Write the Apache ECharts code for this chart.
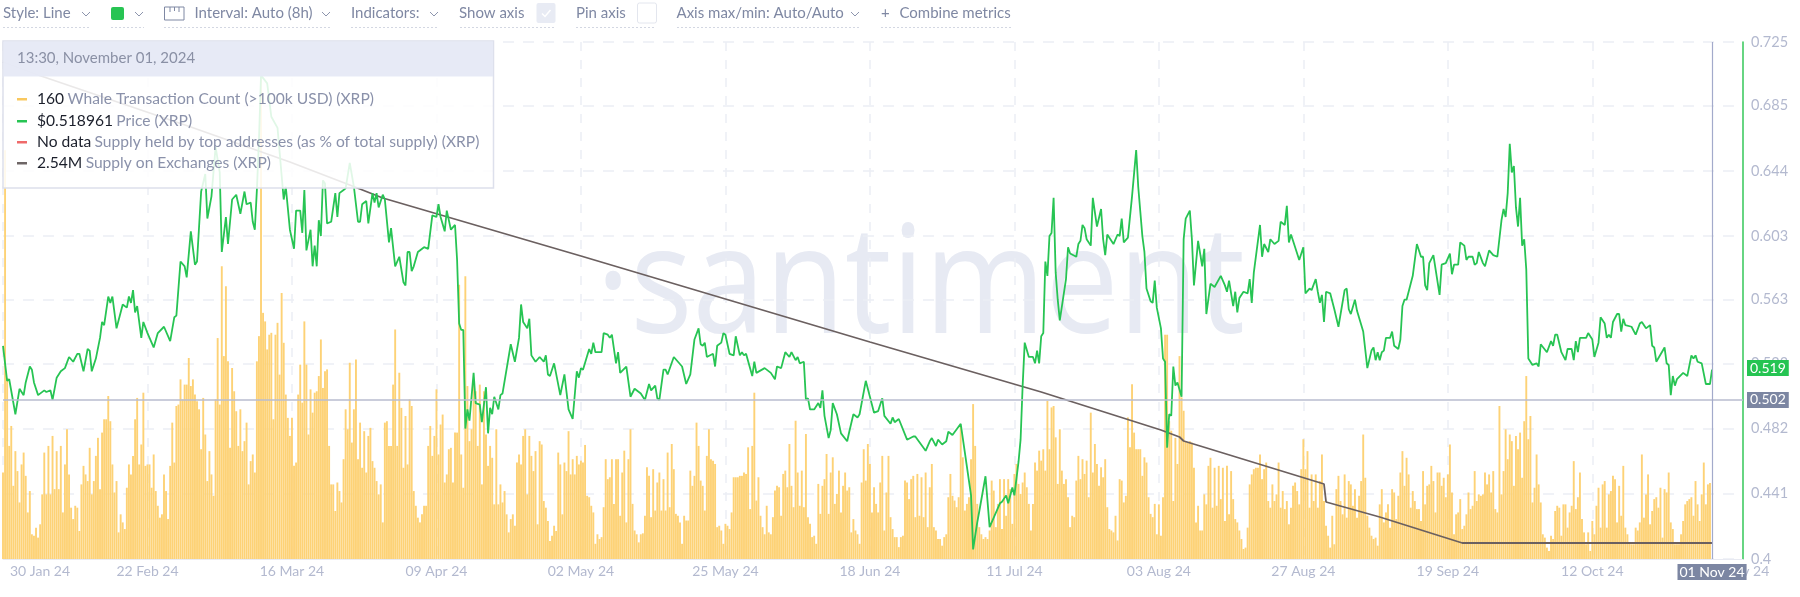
<!DOCTYPE html>
<html>
<head>
<meta charset="utf-8">
<title>XRP metrics</title>
<script src="https://cdn.jsdelivr.net/npm/echarts@6/dist/echarts.min.js"></script>
<style>
  html, body { margin: 0; padding: 0; background: #fff; }
  #chart { width: 1800px; height: 597px; }
</style>
</head>
<body>
<div id="chart"></div>
<script>
// x positions are 8h steps counted from 30 Jan 24
const xTickSteps = [0, 70, 140, 210, 280, 350, 420, 490, 560, 630, 700, 770, 840];
const xTickLabels = ['30 Jan 24', '22 Feb 24', '16 Mar 24', '09 Apr 24', '02 May 24', '25 May 24', '18 Jun 24', '11 Jul 24', '03 Aug 24', '27 Aug 24', '19 Sep 24', '12 Oct 24', '04 Nov 24'];
const priceTicks = [0.4, 0.441, 0.482, 0.523, 0.563, 0.603, 0.644, 0.685, 0.725];
const lastStep = 828;
const pinnedPrice = 0.502;
const lastPrice = 0.519;

const whaleCounts = [
  182,860,381,238,280,154,227,185,119,199,224,175,98,143,52,49,66,45,73,136,224,136,238,136,259,147,227,147,238,98,199,273,178,108,84,
  112,108,59,157,196,178,164,234,136,164,217,255,147,266,294,294,343,290,199,140,164,56,94,77,63,150,199,178,217,294,339,199,241,350,196,199,
  199,150,220,143,112,87,94,178,143,84,196,287,203,322,325,378,336,367,367,423,364,378,346,332,315,231,339,262,164,227,178,133,336,465,325,616,427,574,416,
  234,402,353,311,238,315,227,248,287,157,206,220,182,416,469,1015,518,500,441,472,476,294,472,497,388,560,455,346,297,259,
  297,196,203,346,409,329,500,409,262,357,308,350,353,385,462,360,395,399,238,157,157,101,161,143,119,210,315,273,413,245,315,420,210,287,192,269,182,259,276,206,192,164,136,157,77,287,290,238,238,367,483,238,392,318,192,301,199,336,322,143,112,87,77,94,112,112,238,280,217,259,357,220,283,304,161,178,231,234,161,266,266,577,220,150,595,364,248,273,371,353,238,367,157,353,262,196,238,213,115,273,115,157,119,143,94,56,84,94,70,203,220,199,259,273,136,259,217,185,227,73,248,241,122,108,80,38,49,70,59,224,199,94,203,185,269,178,210,178,217,199,
  207,203,240,133,130,112,98,32,52,42,46,109,210,168,172,210,116,210,210,91,182,228,77,210,273,116,60,52,35,52,54,91,193,175,88,189,102,161,182,102,168,102,224,109,242,189,95,91,77,32,91,81,81,186,154,175,287,238,165,154,102,217,273,210,207,200,67,70,60,32,74,70,63,98,172,172,172,175,175,182,179,235,105,238,350,123,172,91,67,52,112,56,52,88,144,154,151,91,179,186,151,242,154,109,291,182,112,186,109,263,88,74,46,49,32,158,95,154,168,221,95,182,214,116,137,186,98,154,182,144,151,56,84,60,52,32,161,231,165,242,
  200,98,151,116,98,161,217,60,140,217,88,63,46,46,25,46,49,165,161,126,168,175,88,179,91,172,88,182,67,151,200,67,60,42,42,28,46,52,130,179,133,123,109,130,280,214,102,116,130,210,326,238,116,67,52,42,46,42,60,165,144,67,116,168,63,168,91,168,147,74,179,200,158,137,161,182,151,116,60,116,203,186,228,207,231,186,333,231,319,322,256,158,273,186,158,168,130,67,91,88,165,217,168,210,179,207,130,308,182,242,200,154,193,172,210,109,63,60,56,91,39,168,165,119,133,298,235,368,266,231,231,231,175,214,203,130,95,88,116,52,
  115,49,130,472,472,290,270,122,255,200,427,340,312,248,245,248,245,192,77,112,60,60,136,115,196,213,108,192,112,196,126,192,80,196,94,185,126,84,77,60,42,21,24,66,157,178,189,192,192,220,168,189,203,122,108,157,122,136,203,108,143,105,122,73,108,154,161,143,115,189,252,189,227,108,178,122,178,108,164,220,122,70,49,24,91,31,147,175,122,94,178,87,164,157,112,147,87,133,164,262,171,91,66,49,42,45,28,
  115,147,77,98,115,66,147,140,84,133,182,227,154,213,178,108,143,122,105,105,80,185,115,154,157,196,164,98,182,182,154,171,130,178,241,140,52,94,98,126,63,70,94,140,105,112,185,122,136,133,136,182,157,178,140,185,105,98,322,136,185,273,210,262,248,154,259,231,266,171,290,385,252,301,119,150,220,157,119,52,45,24,17,49,42,101,112,108,49,115,115,66,98,112,206,105,130,182,84,56,31,56,17,80,52,112,150,66,157,164,66,136,143,175,168,77,154,91,196,66,52,35,31,31,66,60,77,220,87,136,178,73,101,126,130,108,150,45,147,140,182,77,63,31,31,31,52,80,115,122,126,130,91,164,115,80,136,203,115,157,160
];

const pricePoints = [
  [0,.534],[2,.512],[3,.513],[6,.491],[8,.507],[10,.503],[11,.511],[13,.521],[14,.519],[15,.511],[17,.503],[20,.506],[21,.505],[23,.506],[24,.500],[26,.514],[28,.518],[30,.520],[32,.527],[34,.524],[36,.529],[37,.529],[39,.518],[41,.532],[42,.531],[43,.518],[45,.526],[47,.539],[48,.549],[49,.547],[51,.565],[52,.561],[53,.565],[55,.545],[58,.560],[60,.558],[61,.565],[62,.561],[63,.569],[64,.555],[65,.559],[67,.539],[68,.549],[70,.542],[73,.533],[75,.542],[78,.546],[81,.537],[83,.552],[84,.553],[86,.587],[88,.584],[89,.577],[91,.606],[93,.585],[94,.587],[96,.631],[98,.642],[99,.614],[101,.628],[103,.659],[105,.643],[106,.593],[108,.615],[109,.598],[111,.626],[113,.629],[115,.617],[117,.631],[118,.623],[120,.624],[121,.612],[122,.607],[123,.632],[124,.663],[125,.704],[128,.699],[130,.678],[133,.671],[136,.626],[137,.634],[139,.607],
  [141,.595],[142,.619],[144,.619],[145,.605],[146,.632],[147,.594],[149,.607],[150,.584],[151,.597],[152,.584],[153,.613],[154,.603],[155,.638],[156,.636],[157,.611],[159,.612],[161,.630],[162,.615],[163,.630],[165,.632],[166,.633],[168,.649],[170,.634],[172,.612],[173,.612],[174,.623],[176,.625],[177,.611],[179,.630],[180,.624],[181,.630],[182,.621],[184,.629],[185,.626],[187,.599],[188,.608],[190,.584],[192,.590],[194,.574],[195,.572],[196,.593],[197,.593],[198,.581],[199,.584],[201,.593],[204,.596],[206,.595],[208,.616],[210,.615],[211,.623],[212,.615],[214,.606],[215,.619],[217,.607],[219,.610],[220,.588],[221,.548],[222,.544],[223,.544],[224,.482],[225,.494],[226,.487],[228,.517],[229,.498],[231,.497],[232,.486],[234,.508],[235,.479],[236,.495],[237,.491],[238,.502],[240,.494],[241,.503],[242,.504],[246,.535],[248,.524],[250,.539],[251,.560],[252,.549],[254,.545],[255,.551],[256,.528],[258,.524],[260,.527],[262,.524],[263,.528],[264,.516],[265,.515],[267,.523],[270,.503],[272,.516],[274,.494],[276,.488],[278,.518],[279,.514],[280,.520],
  [281,.519],[284,.532],[285,.529],[286,.536],[287,.530],[290,.530],[291,.542],[293,.541],[294,.539],[295,.541],[297,.523],[298,.530],[299,.517],[302,.521],[304,.502],[306,.507],[309,.504],[311,.500],[313,.510],[314,.506],[316,.509],[317,.501],[318,.500],[320,.519],[321,.519],[322,.516],[325,.527],[329,.521],[331,.510],[333,.516],[335,.538],[337,.545],[338,.535],[339,.534],[340,.536],[341,.527],[344,.529],[345,.521],[346,.534],[348,.536],[349,.542],[350,.541],[352,.529],[354,.528],[355,.540],[357,.528],[358,.530],[359,.528],[360,.529],[363,.515],[364,.524],[365,.517],[369,.520],[372,.517],[374,.513],[375,.521],[377,.520],[379,.530],[381,.527],[382,.530],[384,.525],[385,.527],[386,.523],[388,.524],[389,.500],[390,.501],[391,.494],[393,.494],[395,.498],[396,.495],[397,.506],[398,.490],[400,.476],[401,.481],[402,.498],[404,.491],[406,.479],[409,.474],[410,.480],[412,.491],[414,.489],[415,.491],[418,.512],[420,.502],
  [422,.492],[424,.493],[426,.501],[427,.490],[430,.485],[431,.489],[432,.486],[434,.488],[438,.475],[441,.477],[442,.477],[447,.468],[449,.474],[450,.476],[452,.471],[453,.475],[455,.472],[457,.474],[458,.480],[460,.478],[464,.485],[466,.467],[469,.440],[470,.406],[472,.423],[473,.430],[476,.452],[478,.420],[483,.435],[484,.436],[486,.440],[487,.435],[489,.445],[490,.440],[492,.461],[493,.475],[494,.509],[495,.536],[497,.527],[499,.527],[500,.523],[501,.531],[502,.523],[503,.540],[504,.542],[505,.587],[506,.578],
  [507,.603],[508,.605],[509,.627],[510,.580],[511,.563],[512,.550],[515,.576],[516,.596],[517,.592],[520,.590],[521,.598],[522,.600],[523,.610],[524,.608],[525,.601],[527,.597],[528,.627],[530,.609],[532,.620],[533,.601],[534,.591],[535,.604],[538,.598],[540,.604],[541,.603],[542,.614],[543,.599],[545,.602],[547,.628],[549,.657],[550,.634],[552,.603],[553,.593],[554,.570],[556,.562],[557,.561],[558,.575],[559,.558],[561,.545],[562,.526],[563,.524],[564,.470],[565,.491],[566,.490],[567,.521],[568,.509],[569,.511],[571,.502],[572,.601],[573,.614],[575,.619],[576,.601],[577,.572],[579,.600],[581,.584],[582,.595],[583,.554],[585,.573],[587,.571],[590,.578],[592,.572],[593,.568],[594,.575],[596,.559],[597,.568],[598,.555],[599,.564],[601,.568],[603,.567],[604,.576],[605,.561],[606,.580],[609,.610],[610,.590],[611,.598],[613,.593],[614,.601],[616,.598],[618,.600],[619,.612],[621,.610],[622,.622],[623,.599],[624,.604],[625,.600],[628,.588],[630,.596],[631,.567],[633,.570],[634,.569],[636,.576],[637,.568],[638,.561],[639,.566],[640,.549],[641,.568],[643,.567],[645,.557],[647,.546],[650,.569],[651,.570],[652,.557],[653,.554],[655,.563],[656,.556],[659,.543],[661,.520],[663,.531],[664,.533],[665,.525],[666,.530],[667,.525],
  [668,.530],[669,.531],[670,.539],[672,.539],[673,.543],[674,.534],[676,.532],[677,.538],[678,.559],[679,.563],[680,.563],[682,.573],[683,.578],[685,.598],[687,.590],[688,.590],[689,.572],[690,.569],[691,.586],[693,.591],[696,.566],[697,.585],[699,.586],[701,.592],[702,.579],[703,.585],[705,.585],[706,.599],[708,.597],[709,.588],[710,.590],[712,.590],[713,.585],[714,.586],[715,.593],[717,.586],[718,.584],[720,.594],[722,.591],[724,.590],[726,.613],[727,.620],[728,.615],[729,.630],[730,.661],[731,.643],[732,.647],[733,.621],[734,.609],[735,.627],[736,.597],[737,.601],[738,.582],[739,.526],[741,.522],[743,.523],[744,.521],[745,.535],[748,.530],[750,.537],[751,.534],[752,.541],[753,.541],[755,.530],[757,.525],[758,.532],[760,.532],[761,.525],[762,.537],[763,.530],[764,.539],[767,.539],[768,.542],[770,.538],[771,.527],[773,.536],[774,.552],[776,.548],[777,.539],[778,.541],[779,.539],[780,.549],[782,.554],[783,.554],[784,.543],[785,.551],[786,.547],[789,.546],[791,.541],[793,.548],[794,.549],[796,.545],[798,.547],[799,.534],[800,.533],[801,.524],[805,.533],[806,.523],[807,.522],[808,.503],[809,.515],[810,.509],[811,.513],[814,.517],[816,.515],[818,.528],[819,.526],[820,.528],[821,.524],[823,.523],[825,.510],[827,.510],[828,.519]
];

// supply on exchanges, in M
const supplyPoints = [[0,3.021],[17,3.008],[91,2.956],[139,2.921],[168,2.898],[184,2.885],[280,2.827],[420,2.741],[503,2.691],[561,2.653],[570,2.646],[572,2.642],[580,2.637],[640,2.599],[641,2.581],[667,2.566],[707,2.540],[828,2.540]];

const tooltipRows = [
  { color: '#f9c85f', value: '160', name: 'Whale Transaction Count (>100k USD) (XRP)' },
  { color: '#27c453', value: '$0.518961', name: 'Price (XRP)' },
  { color: '#ef6a6a', value: 'No data', name: 'Supply held by top addresses (as % of total supply) (XRP)' },
  { color: '#6e6666', value: '2.54M', name: 'Supply on Exchanges (XRP)' }
];

const uiFont = 'Lato, sans-serif';
const axisFont = '"Liberation Sans Narrow", Lato, sans-serif';
const textGrey = '#7f88a3';

const label = (text, x, y, size, fill, z) => ({
  type: 'text', x: x, y: y, z: z || 10, silent: true,
  style: { text: text, fill: fill || textGrey, font: (size || 15) + 'px ' + uiFont, verticalAlign: 'middle' }
});
const chevron = (x, y) => ({
  type: 'polyline', x: x, y: y, z: 10, silent: true,
  shape: { points: [[-4, -2], [0, 2], [4, -2]] },
  style: { stroke: '#8d95ad', lineWidth: 1, fill: null }
});
const underline = (x1, x2) => ({
  type: 'line', z: 10, silent: true,
  shape: { x1: x1, y1: 27.5, x2: x2, y2: 27.5 },
  style: { stroke: '#d3d7e2', lineWidth: 1, lineDash: [2, 2] }
});

const toolbar = [
  label('Style: Line', 3, 13.5), chevron(86, 14), underline(3, 91),
  { type: 'rect', z: 10, silent: true, shape: { x: 111, y: 7, width: 13, height: 13, r: 2 }, style: { fill: '#27c453' } },
  chevron(139, 14), underline(111, 144),
  { type: 'polyline', z: 10, silent: true, shape: { points: [[164.5, 7], [184, 7], [184, 20], [164.5, 20], [164.5, 7]] }, style: { stroke: '#7f88a3', lineWidth: 1, fill: null } },
  { type: 'polyline', z: 10, silent: true, shape: { points: [[170, 7], [170, 12]] }, style: { stroke: '#7f88a3', lineWidth: 1 } },
  { type: 'polyline', z: 10, silent: true, shape: { points: [[174.5, 7], [174.5, 11]] }, style: { stroke: '#7f88a3', lineWidth: 1 } },
  { type: 'polyline', z: 10, silent: true, shape: { points: [[179, 7], [179, 12]] }, style: { stroke: '#7f88a3', lineWidth: 1 } },
  label('Interval: Auto (8h)', 194.5, 13.5), chevron(326, 14), underline(164, 331),
  label('Indicators:', 351, 13.5), chevron(434, 14), underline(351, 439),
  label('Show axis', 459, 13.5),
  { type: 'rect', z: 10, silent: true, shape: { x: 536.5, y: 3, width: 19, height: 20, r: 2 }, style: { fill: '#e8ebf4' } },
  { type: 'polyline', z: 10, silent: true, shape: { points: [[542, 13.5], [545, 16.5], [550.5, 10]] }, style: { stroke: '#fff', lineWidth: 1.5, fill: null } },
  underline(460, 555),
  label('Pin axis', 576, 13.5),
  { type: 'rect', z: 10, silent: true, shape: { x: 637.5, y: 3, width: 19, height: 20, r: 2 }, style: { fill: '#fff', stroke: '#e3e6ee', lineWidth: 1 } },
  underline(576, 656),
  label('Axis max/min: Auto/Auto', 676.5, 13.5), chevron(855, 14), underline(677, 860),
  label('+', 881, 13.5), label('Combine metrics', 899.5, 13.5), underline(881, 1011)
];

const tooltipBox = [
  { type: 'rect', z: 20, silent: true, shape: { x: 3, y: 41, width: 490.5, height: 147 }, style: { fill: 'rgba(255,255,255,0.86)', stroke: '#dde0ec', lineWidth: 1.5 } },
  { type: 'rect', z: 21, silent: true, shape: { x: 3.5, y: 41.5, width: 489.5, height: 35 }, style: { fill: 'rgba(230,233,245,0.95)' } },
  label('13:30, November 01, 2024', 17, 58, 15, '#8a90a5', 22)
];
const rowY = [99, 121, 142, 163];
tooltipRows.forEach((row, i) => {
  tooltipBox.push({ type: 'rect', z: 22, silent: true, shape: { x: 17, y: rowY[i] - 1, width: 10, height: 2.5 }, style: { fill: row.color } });
  tooltipBox.push({
    type: 'text', x: 37, y: rowY[i], z: 22, silent: true,
    style: {
      text: '{v|' + row.value + '} {n|' + row.name + '}', verticalAlign: 'middle',
      rich: {
        v: { fill: '#1b1f2b', font: '15.6px ' + uiFont },
        n: { fill: '#8a91aa', font: '15.6px ' + uiFont }
      }
    }
  });
});

const watermark = {
  type: 'text', x: 596, y: 215, z: -1, silent: true, scaleX: 0.87,
  style: { text: '\u00b7santiment', fill: '#e7eaf3', font: '150px "Open Sans", sans-serif', verticalAlign: 'alphabetic' }
};

const chipLabel = (text, bg) => ({
  show: true, position: 'end', distance: 4, formatter: text, color: '#fff', backgroundColor: bg,
  padding: [1, 3], fontFamily: axisFont, fontSize: 14
});

const chart = echarts.init(document.getElementById('chart'));
chart.setOption({
  animation: false,
  backgroundColor: '#fff',
  graphic: [watermark].concat(toolbar, tooltipBox),
  grid: { left: 3, right: 57, top: 42, bottom: 38 },
  xAxis: {
    type: 'value', min: 0, max: 843,
    axisLine: { onZero: false, lineStyle: { color: '#e8eaf2', width: 1 } },
    axisTick: { show: false, customValues: xTickSteps.slice(0, -1) },
    splitLine: { show: true, lineStyle: { color: '#eceef5', width: 1.5, type: [9, 9] } },
    axisLabel: {
      customValues: xTickSteps, alignMinLabel: 'left', showMinLabel: true, showMaxLabel: true, margin: 5,
      fontFamily: axisFont, fontSize: 14, color: '#b3b9cf',
      formatter: v => (v === 0 ? '{first|' + xTickLabels[0] + '}' : xTickLabels[xTickSteps.indexOf(v)]),
      rich: { first: { padding: [0, 0, 0, 7], fontFamily: axisFont, fontSize: 14, color: '#b3b9cf' } }
    }
  },
  yAxis: [
    {
      type: 'value', position: 'right', min: 0.4, max: 0.725,
      axisLine: { show: true, onZero: false, lineStyle: { color: '#34c759', width: 1.5 } },
      axisTick: { show: false, customValues: priceTicks },
      splitLine: { show: true, lineStyle: { color: '#eceef5', width: 1.5, type: [11, 9] } },
      axisLabel: {
        customValues: priceTicks, margin: 8, fontFamily: axisFont, fontSize: 14.5, color: '#b3b9cf',
        formatter: v => String(v)
      }
    },
    { type: 'value', show: false, min: 0, max: 1088, splitLine: { show: false } },
    { type: 'value', show: false, min: 2.524, max: 3.041, splitLine: { show: false } }
  ],
  series: [
    {
      name: 'Whale Transaction Count (>100k USD) (XRP)', type: 'bar', yAxisIndex: 1, barWidth: 1.9, silent: true,
      itemStyle: { color: '#fdd276' },
      data: whaleCounts.map((count, step) => [step, count])
    },
    {
      name: 'Supply on Exchanges (XRP)', type: 'line', yAxisIndex: 2, symbol: 'none', silent: true,
      lineStyle: { color: '#6b6060', width: 1.8 },
      data: supplyPoints
    },
    {
      name: 'Price (XRP)', type: 'line', yAxisIndex: 0, symbol: 'none', silent: true,
      lineStyle: { color: '#27c453', width: 1.8 },
      data: pricePoints,
      markLine: {
        silent: true, symbol: 'none', animation: false,
        data: [
          { yAxis: pinnedPrice, lineStyle: { color: '#b9bdcf', width: 1.5, type: 'solid' }, label: chipLabel(pinnedPrice.toFixed(3), '#7c86a2') },
          { yAxis: lastPrice, lineStyle: { color: 'rgba(0,0,0,0)' }, label: chipLabel(lastPrice.toFixed(3), '#25c452') },
          {
            xAxis: lastStep, lineStyle: { color: '#a3aacb', width: 1.2, type: 'solid' },
            label: { show: true, position: 'start', distance: 5, formatter: '01 Nov 24', color: '#fff', backgroundColor: '#7c86a2', padding: [1, 2], fontFamily: axisFont, fontSize: 14 }
          }
        ]
      }
    }
  ]
});
</script>
</body>
</html>
